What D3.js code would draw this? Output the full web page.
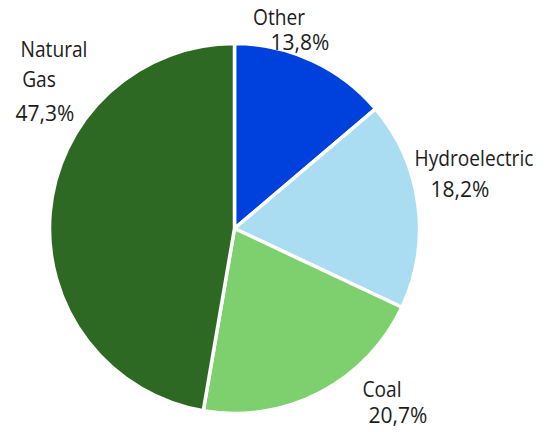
<!DOCTYPE html>
<html><head><meta charset="utf-8">
<script src="https://cdn.jsdelivr.net/npm/d3@7"></script>
<style>body{margin:0;background:#fff}text{font-family:"Open Sans",sans-serif;fill:#1c1c1c}</style>
</head><body><svg id="c" width="557" height="432"></svg>
<script>
const categories = ["Other", "Hydroelectric", "Coal", "Natural Gas"];
const values = [13.8, 18.2, 20.7, 47.3];
const valueLabels = ["13,8%", "18,2%", "20,7%", "47,3%"];
const colors = ["#0040DD", "#AADDF2", "#7ECF6D", "#2E6923"];
// label layout (text centre x, baseline y)
const nameLines = [
  [["Other", 279, 25]],
  [["Hydroelectric", 474, 166]],
  [["Coal", 382, 397]],
  [["Natural", 54, 57], ["Gas", 39, 87]]
];
const valuePos = [[300, 50], [460, 197], [398, 423], [45, 121]];
const svg = d3.select("#c");
const cx = 234.5, cy = 228.5, R = 185;
const pie = d3.pie().sort(null).value(d => d)(values);
const arc = d3.arc().innerRadius(0).outerRadius(R);
const g = svg.append("g").attr("transform", `translate(${cx},${cy})`);
g.selectAll("path").data(pie).join("path")
  .attr("d", arc).attr("fill", (d, i) => colors[i])
  .attr("stroke", "#fff").attr("stroke-width", 3.5).attr("stroke-linejoin", "round");
const sx = 0.87;
nameLines.forEach((lines) => {
  lines.forEach(([t, x, y]) => {
    svg.append("text").attr("transform", `translate(${x},${y}) scale(${sx},1)`)
      .attr("text-anchor", "middle").attr("font-size", 22).text(t);
  });
});
valueLabels.forEach((t, i) => {
  svg.append("text").attr("x", valuePos[i][0]).attr("y", valuePos[i][1])
    .attr("text-anchor", "middle").attr("font-size", 21).text(t);
});
</script></body></html>
